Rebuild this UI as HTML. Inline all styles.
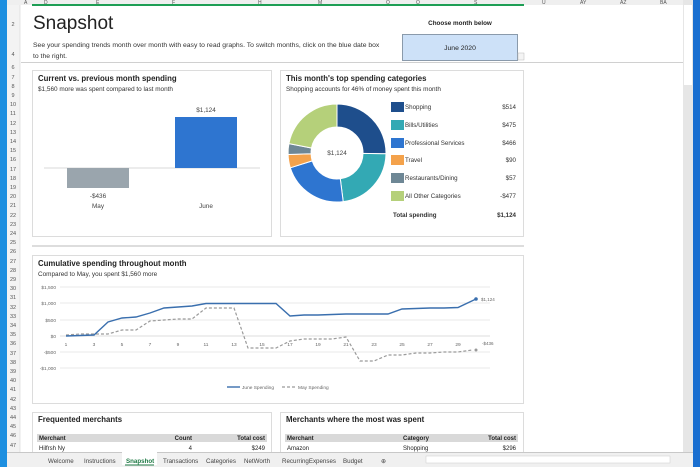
<!DOCTYPE html>
<html><head><meta charset="utf-8"><style>
html,body{margin:0;padding:0;width:700px;height:467px;overflow:hidden;background:#fff}
svg{display:block;font-family:"Liberation Sans",sans-serif}
</style></head><body>
<svg width="700" height="467" viewBox="0 0 700 467" xmlns="http://www.w3.org/2000/svg">
<rect width="700" height="467" fill="#fff"/>
<!-- desktop strips -->
<rect x="0" y="0" width="7" height="467" fill="#1d8fe0"/>
<rect x="693" y="0" width="7" height="467" fill="#1a6fd0"/>
<rect x="683" y="0" width="10" height="452" fill="#e6e6e6"/>
<rect x="684" y="5" width="8" height="80" fill="#fff"/>
<!-- column header -->
<rect x="7" y="0" width="676" height="5" fill="#efefef"/>
<g font-size="5" fill="#555">
<text x="24" y="4">A</text><text x="44" y="4">D</text><text x="96" y="4">E</text><text x="172" y="4">F</text><text x="258" y="4">H</text><text x="318" y="4">M</text><text x="386" y="4">O</text><text x="416" y="4">Q</text><text x="474" y="4">S</text><text x="542" y="4">U</text><text x="580" y="4">AY</text><text x="620" y="4">AZ</text><text x="660" y="4">BA</text>
</g>
<rect x="32" y="4" width="492" height="2" fill="#1e9e55"/>
<!-- row header -->
<rect x="7" y="5" width="13" height="447" fill="#f3f3f3"/>
<line x1="20" y1="5" x2="20" y2="452" stroke="#d4d4d4" stroke-width="0.6"/>
<g font-size="5.5" fill="#555" text-anchor="middle">
<text x="13" y="26">2</text><text x="13" y="56">4</text>
<text x="13" y="69">6</text><text x="13" y="79">7</text><text x="13" y="88">8</text><text x="13" y="97">9</text><text x="13" y="106">10</text><text x="13" y="115">11</text><text x="13" y="125">12</text><text x="13" y="134">13</text><text x="13" y="143">14</text><text x="13" y="152">15</text><text x="13" y="161">16</text><text x="13" y="171">17</text><text x="13" y="180">18</text><text x="13" y="189">19</text><text x="13" y="198">20</text><text x="13" y="207">21</text><text x="13" y="217">22</text><text x="13" y="226">23</text><text x="13" y="235">24</text><text x="13" y="244">25</text><text x="13" y="253">26</text><text x="13" y="263">27</text><text x="13" y="272">28</text><text x="13" y="281">29</text><text x="13" y="290">30</text><text x="13" y="299">31</text><text x="13" y="309">32</text><text x="13" y="318">33</text><text x="13" y="327">34</text><text x="13" y="336">35</text><text x="13" y="345">36</text><text x="13" y="355">37</text><text x="13" y="364">38</text><text x="13" y="373">39</text><text x="13" y="382">40</text><text x="13" y="391">41</text><text x="13" y="401">42</text><text x="13" y="410">43</text><text x="13" y="419">44</text><text x="13" y="428">45</text><text x="13" y="437">46</text><text x="13" y="447">47</text>
</g>
<!-- header area -->
<text x="33" y="29" font-size="19" fill="#222">Snapshot</text>
<text x="33" y="47" font-size="6.8" fill="#333">See your spending trends month over month with easy to read graphs. To switch months, click on the blue date box</text>
<text x="33" y="58" font-size="6.8" fill="#333">to the right.</text>
<text x="460" y="25" font-size="6.3" font-weight="bold" fill="#222" text-anchor="middle">Choose month below</text>
<rect x="402.5" y="34.5" width="115" height="26" fill="#cde1f8" stroke="#8a9aab"/>
<text x="460" y="50" font-size="6.8" fill="#222" text-anchor="middle">June 2020</text>
<rect x="518" y="53" width="6" height="7" fill="#f4f4f4" stroke="#bbb" stroke-width="0.5"/>
<line x1="21" y1="62.5" x2="683" y2="62.5" stroke="#d0d0d0"/>
<!-- panels -->
<g fill="#fff" stroke="#dcdcdc">
<rect x="32.5" y="70.5" width="239" height="166"/>
<rect x="280.5" y="70.5" width="243" height="166"/>
<rect x="32.5" y="255.5" width="491" height="148"/>
<rect x="32.5" y="412.5" width="239" height="45"/>
<rect x="280.5" y="412.5" width="243" height="45"/>
</g>
<line x1="32" y1="246" x2="524" y2="246" stroke="#bbb"/>
<!-- bar chart -->
<text x="38" y="81" font-size="7.8" font-weight="bold" fill="#222">Current vs. previous month spending</text>
<text x="38" y="91" font-size="6.4" fill="#333">$1,560 more was spent compared to last month</text>
<line x1="44" y1="168" x2="260" y2="168" stroke="#d9d9d9"/>
<rect x="67" y="168" width="62" height="20" fill="#9aa5ad"/>
<rect x="175" y="117" width="62" height="51" fill="#2e75d0"/>
<g font-size="6.4" fill="#444" text-anchor="middle">
<text x="206" y="112">$1,124</text><text x="98" y="198">-$436</text><text x="98" y="208">May</text><text x="206" y="208">June</text>
</g>
<!-- donut -->
<text x="286" y="81" font-size="7.8" font-weight="bold" fill="#222">This month's top spending categories</text>
<text x="286" y="91" font-size="6.4" fill="#333">Shopping accounts for 46% of money spent this month</text>
<g transform="translate(337,153)" stroke="#fff" stroke-width="1">
<path d="M0,-49 A49,49 0 0 1 49,0.8 L26,0.4 A26,26 0 0 0 0,-26Z" fill="#1e4e8c"/>
<path d="M49,0.8 A49,49 0 0 1 6.2,48.6 L3.3,25.8 A26,26 0 0 0 26,0.4Z" fill="#33a9b4"/>
<path d="M6.2,48.6 A49,49 0 0 1 -46.7,14.8 L-24.8,7.9 A26,26 0 0 0 3.3,25.8Z" fill="#2e75d0"/>
<path d="M-46.7,14.8 A49,49 0 0 1 -48.9,1.5 L-25.9,0.8 A26,26 0 0 0 -24.8,7.9Z" fill="#f4a24b"/>
<path d="M-48.9,1.5 A49,49 0 0 1 -48.1,-9.4 L-25.5,-5 A26,26 0 0 0 -25.9,0.8Z" fill="#6e8795"/>
<path d="M-48.1,-9.4 A49,49 0 0 1 0,-49 L0,-26 A26,26 0 0 0 -25.5,-5Z" fill="#b5d07a"/>
</g>
<text x="337" y="155" font-size="6.4" fill="#444" text-anchor="middle">$1,124</text>
<g font-size="6.2" fill="#333">
<rect x="391" y="102" width="13" height="10" fill="#1e4e8c"/><text x="405" y="109">Shopping</text><text x="516" y="109" text-anchor="end">$514</text>
<rect x="391" y="120" width="13" height="10" fill="#33a9b4"/><text x="405" y="127">Bills/Utilities</text><text x="516" y="127" text-anchor="end">$475</text>
<rect x="391" y="138" width="13" height="10" fill="#2e75d0"/><text x="405" y="145">Professional Services</text><text x="516" y="145" text-anchor="end">$466</text>
<rect x="391" y="155" width="13" height="10" fill="#f4a24b"/><text x="405" y="162">Travel</text><text x="516" y="162" text-anchor="end">$90</text>
<rect x="391" y="173" width="13" height="10" fill="#6e8795"/><text x="405" y="180">Restaurants/Dining</text><text x="516" y="180" text-anchor="end">$57</text>
<rect x="391" y="191" width="13" height="10" fill="#b5d07a"/><text x="405" y="198">All Other Categories</text><text x="516" y="198" text-anchor="end">-$477</text>
<text x="393" y="217" font-weight="bold">Total spending</text><text x="516" y="217" text-anchor="end" font-weight="bold">$1,124</text>
</g>
<!-- line chart -->
<text x="38" y="266" font-size="7.8" font-weight="bold" fill="#222">Cumulative spending throughout month</text>
<text x="38" y="276" font-size="6.4" fill="#333">Compared to May, you spent $1,560 more</text>
<g stroke="#e3e3e3" stroke-width="0.7">
<line x1="60" y1="287" x2="490" y2="287"/><line x1="60" y1="303" x2="490" y2="303"/><line x1="60" y1="320" x2="490" y2="320"/><line x1="60" y1="336" x2="490" y2="336" stroke="#d0d0d0"/><line x1="60" y1="352" x2="490" y2="352"/><line x1="60" y1="368" x2="490" y2="368"/>
</g>
<g font-size="4.8" fill="#666" text-anchor="end">
<text x="56" y="289">$1,500</text><text x="56" y="305">$1,000</text><text x="56" y="322">$500</text><text x="56" y="338">$0</text><text x="56" y="354">-$500</text><text x="56" y="370">-$1,000</text>
</g>
<g font-size="4.8" fill="#666" text-anchor="middle">
<text x="66" y="346">1</text><text x="94" y="346">3</text><text x="122" y="346">5</text><text x="150" y="346">7</text><text x="178" y="346">9</text><text x="206" y="346">11</text><text x="234" y="346">13</text><text x="262" y="346">15</text><text x="290" y="346">17</text><text x="318" y="346">19</text><text x="346" y="346">21</text><text x="374" y="346">23</text><text x="402" y="346">25</text><text x="430" y="346">27</text><text x="458" y="346">29</text>
</g>
<polyline fill="none" stroke="#9a9a9a" stroke-width="1.2" stroke-dasharray="3,2" points="66,335 80,334 94,334 108,334 122,330 136,330 150,321 164,320 178,319 192,319 206,308 220,308 234,308 248,348 262,348 276,348 290,341 304,339 318,339 332,339 346,337 360,361 374,361 388,355 402,355 416,353 430,353 444,352 458,352 472,350"/>
<polyline fill="none" stroke="#3a6fae" stroke-width="1.4" points="66,336 80,335.5 94,335 108,322 122,318 136,317 150,313 164,308 178,307 192,306 206,303.5 220,303.5 234,303.5 248,303.5 262,303.5 276,303.5 290,316 304,315 318,315 332,314.5 346,314 360,314 374,314 388,314 402,309 416,308.5 430,308 444,308 458,307.5 476,299"/>
<circle cx="476" cy="299" r="1.8" fill="#3a6fae"/>
<circle cx="476" cy="350" r="1.5" fill="#9a9a9a"/>
<text x="481" y="301" font-size="4.5" fill="#666">$1,124</text>
<text x="482" y="345" font-size="4.5" fill="#666">-$436</text>
<line x1="227" y1="387" x2="240" y2="387" stroke="#3a6fae" stroke-width="1.4"/>
<text x="242" y="389" font-size="4.8" fill="#666">June Spending</text>
<line x1="282" y1="387" x2="295" y2="387" stroke="#9a9a9a" stroke-width="1.2" stroke-dasharray="3,2"/>
<text x="298" y="389" font-size="4.8" fill="#666">May Spending</text>
<!-- tables -->
<text x="38" y="422" font-size="7.8" font-weight="bold" fill="#222">Frequented merchants</text>
<text x="286" y="422" font-size="7.8" font-weight="bold" fill="#222">Merchants where the most was spent</text>
<rect x="37" y="434" width="230" height="8" fill="#d9d9d9"/>
<rect x="285" y="434" width="233" height="8" fill="#d9d9d9"/>
<g font-size="6" fill="#222">
<text x="39" y="440" font-weight="bold">Merchant</text><text x="192" y="440" text-anchor="end" font-weight="bold">Count</text><text x="265" y="440" text-anchor="end" font-weight="bold">Total cost</text>
<text x="39" y="450">Hilfrsh Ny</text><text x="192" y="450" text-anchor="end">4</text><text x="265" y="450" text-anchor="end">$249</text>
<text x="287" y="440" font-weight="bold">Merchant</text><text x="403" y="440" font-weight="bold">Category</text><text x="516" y="440" text-anchor="end" font-weight="bold">Total cost</text>
<text x="287" y="450">Amazon</text><text x="403" y="450">Shopping</text><text x="516" y="450" text-anchor="end">$296</text>
</g>
<!-- tab bar -->
<rect x="7" y="452" width="686" height="15" fill="#f0f0f0"/>
<line x1="7" y1="452.5" x2="693" y2="452.5" stroke="#c8c8c8"/>
<g font-size="6.2" fill="#444">
<text x="48" y="463">Welcome</text><text x="84" y="463">Instructions</text><text x="163" y="463">Transactions</text><text x="206" y="463">Categories</text><text x="244" y="463">NetWorth</text><text x="282" y="463">RecurringExpenses</text><text x="343" y="463">Budget</text><text x="381" y="463">⊕</text>
</g>
<rect x="122" y="452" width="35" height="13" fill="#fff"/>
<text x="126" y="463" font-size="6.2" font-weight="bold" fill="#1e7a45">Snapshot</text>
<line x1="125" y1="465" x2="154" y2="465" stroke="#1e7a45"/>
<rect x="426" y="456" width="244" height="7" fill="#fff" stroke="#ccc" stroke-width="0.5"/>
</svg>
</body></html>
